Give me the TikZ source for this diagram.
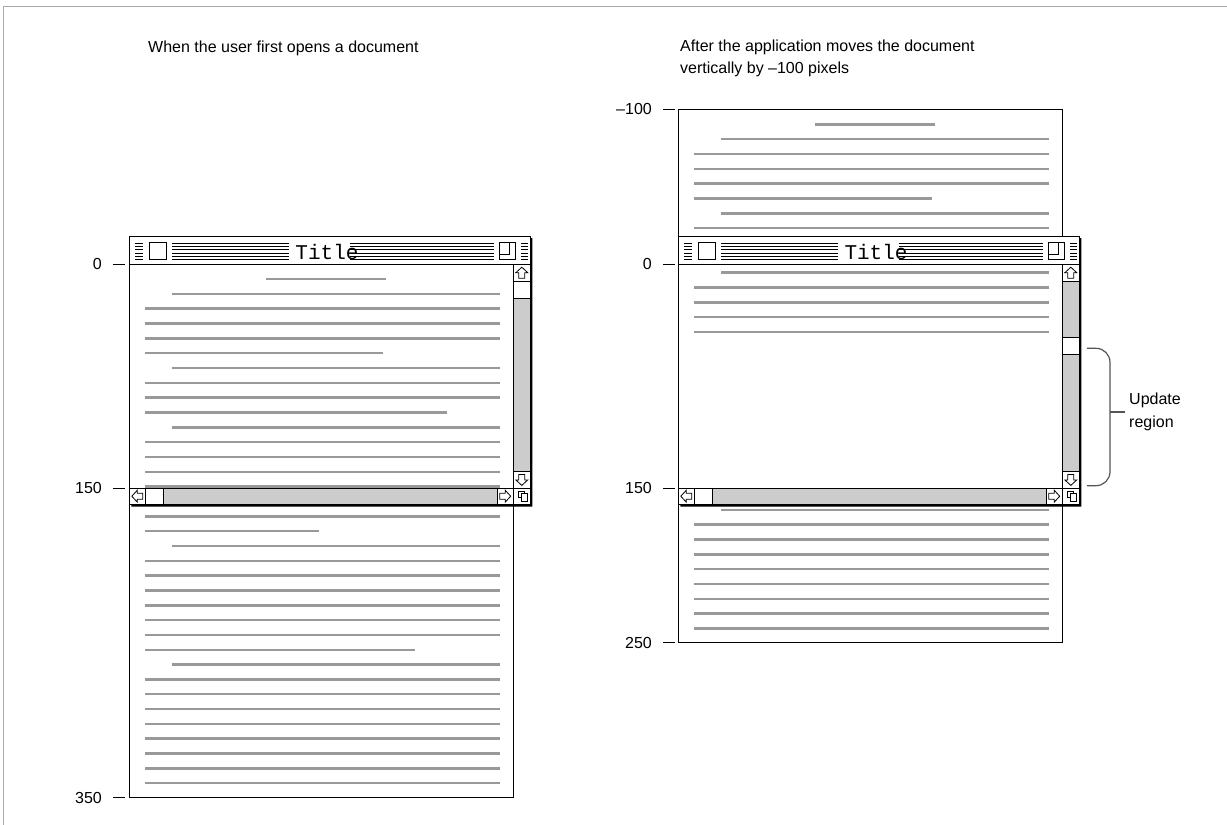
\documentclass[tikz,border=0pt]{standalone}
\usepackage{fontspec}
\setmainfont{Liberation Sans}
\setmonofont{Liberation Mono}
\usepackage{xcolor}
\usepackage{tikz}
\usetikzlibrary{positioning}

\definecolor{docline}{HTML}{999999}
\definecolor{barfill}{HTML}{CCCCCC}
\definecolor{framegray}{HTML}{AAAAAA}
\definecolor{bracegray}{HTML}{555555}

% line number / start / end of the text lines on a page
\newcommand\doclist{0/136.4/256.4, 1/43/370.7, 2/16/370.7, 3/16/370.7,
  4/16/370.7, 5/16/253.7, 6/43/370.7, 7/16/370.7, 8/16/370.7, 9/16/317.4,
  10/43/370.7, 11/16/370.7, 12/16/370.7, 13/16/370.7, 14/16/370.7,
  15/16/370.7, 16/16/370.7, 17/16/189.7, 18/43/370.7, 19/16/370.7,
  20/16/370.7, 21/16/370.7, 22/16/370.7, 23/16/370.7, 24/16/370.7,
  25/16/285.7, 26/43/370.7, 27/16/370.7, 28/16/370.7, 29/16/370.7,
  30/16/370.7, 31/16/370.7, 32/16/370.7, 33/16/370.7, 34/16/370.7}

\begin{document}
\begin{tikzpicture}[
  x=1pt, y=-1pt,
  font=\fontsize{16}{22}\selectfont,
  ticklabel/.style={
    inner sep=0pt,
    anchor=east
  },
  tickmark/.style={
    line width=0.9pt
  },
  textline/.style={
    draw=docline,
    line width=2.5pt
  },
  docpage/.style={
    draw=black,
    fill=white,
    line width=1pt
  },
  winframe/.style={
    draw=black,
    line width=1pt
  },
  scrollbar/.style={
    draw=black,
    fill=barfill,
    line width=1pt
  },
  stripe/.style={
    line width=0.8pt
  },
  glyph/.style={
    draw=black,
    fill=white,
    line width=0.8pt,
    line join=miter
  },
  note/.style={
    inner sep=0pt,
    align=left
  },
  regionbrace/.style={
    draw=bracegray,
    line width=1.2pt,
    rounded corners=14pt
  }
]

\useasboundingbox (0,0) rectangle (1227,825);
\draw[draw=framegray, line width=1pt] (3,825) -- (3,6) -- (1227,6);

% --- Captions --------------------------------------------------------

\node[note, anchor=base west] (capleft) at (148,52)
{When the user first opens a document};

\node[note, anchor=north west] (capright) at (680,40)
{After the application moves the document\\vertically by \textendash100 pixels};

% --- Documents -------------------------------------------------------

\begin{scope}[shift={(129.3,264)}]
  \draw[docpage] (0,0) rectangle (384,533.7);
  \foreach \k/\xa/\xb in \doclist
    \draw[textline] (\xa,15+14.83*\k) -- (\xb,15+14.83*\k);
\end{scope}

\begin{scope}[shift={(678.3,109.3)}]
  \draw[docpage] (0,0) rectangle (384,533.4);
  \foreach \k/\xa/\xb in \doclist
    \draw[textline] (\xa,15+14.83*\k) -- (\xb,15+14.83*\k);
  % update region, not yet redrawn
  \fill[white] (1,229) rectangle (383,379);
\end{scope}

% --- Windows ---------------------------------------------------------

\foreach \wx/\thumb/\id in {129.3/45.3/left, 678.3/101.7/right} {
  \begin{scope}[shift={(\wx,236)}]
    % shadow
    \fill (401,2) rectangle (403,270.5) (2,268.3) rectangle (403,270.5);
    \draw[winframe] (0,0) rectangle (401,268.3);
    % title bar
    \draw[winframe, fill=white] (0,0) rectangle (401,28);
    \foreach \s in {0,...,5}
      \draw[stripe] (6,7+3.3*\s) -- (14,7+3.3*\s)
        (42.7,7+3.3*\s) -- (159.3,7+3.3*\s)
        (221,7+3.3*\s) -- (364.3,7+3.3*\s)
        (392,7+3.3*\s) -- (399,7+3.3*\s);
    \draw[glyph] (20.3,6.3) rectangle (37,23.3);
    \draw[glyph] (370,6.3) rectangle (386,23.3);
    \draw[glyph] (370,6.3) rectangle (380.3,18);
    \node[inner sep=0pt, anchor=base, font=\ttfamily\fontsize{21}{21}\selectfont]
      (title-\id) at (197.7,23.3) {Title};
    % vertical scroll bar
    \draw[scrollbar] (384,28) rectangle (401,252);
    \draw[glyph] (384,28) rectangle (401,45.3);
    \draw[glyph] (384,\thumb) rectangle (401,\thumb+17);
    \draw[glyph] (384,235.7) rectangle (401,252);
    % horizontal scroll bar
    \draw[scrollbar] (0,252) rectangle (401,268.3);
    \draw[glyph] (0,252) rectangle (16,268.3);
    \draw[glyph] (16,252) rectangle (33.7,268.3);
    \draw[glyph] (367.7,252) rectangle (384,268.3);
    \draw[glyph] (384,252) rectangle (401,268.3);
    \foreach \cx/\cy/\rot in {392.5/36.7/0, 392.5/243.9/180, 8/260.2/90, 375.9/260.2/-90}
      \draw[glyph, shift={(\cx,\cy)}, rotate=\rot]
        (0,-5.5) -- (6,0) -- (3,0) -- (3,5.5) -- (-3,5.5) -- (-3,0) -- (-6,0) -- cycle;
    % grow box
    \draw[glyph] (389.3,255) rectangle (395,261.3);
    \draw[glyph] (391.7,257.3) rectangle (398.3,265.7);
  \end{scope}
}

% --- Scales ----------------------------------------------------------

\foreach \ty/\tl/\id in {264/0/a, 488/150/b, 797.7/350/c} {
  \node[ticklabel] (lt-\id) at (102,\ty) {\tl};
  \draw[tickmark] ([xshift=11pt]lt-\id.east) -- ++(12,0);
}

\foreach \ty/\tl/\id in {109.3/\textendash100/a, 264/0/b, 488/150/c, 642.7/250/d} {
  \node[ticklabel] (rt-\id) at (652,\ty) {\tl};
  \draw[tickmark] ([xshift=11pt]rt-\id.east) -- ++(12,0);
}

% --- Update region ---------------------------------------------------

\node[note, anchor=west, font=\fontsize{16}{23}\selectfont] (update) at (1129,412)
{Update\\region};

\coordinate (bracetop) at (1087,348.3);
\coordinate (bracebot) at (1087,485.7);
\draw[regionbrace] (bracetop) -| ([xshift=-19pt]update.west) |- (bracebot);
\draw[regionbrace] ([xshift=-19pt]update.west) -- ([xshift=-4pt]update.west);

\end{tikzpicture}
\end{document}
